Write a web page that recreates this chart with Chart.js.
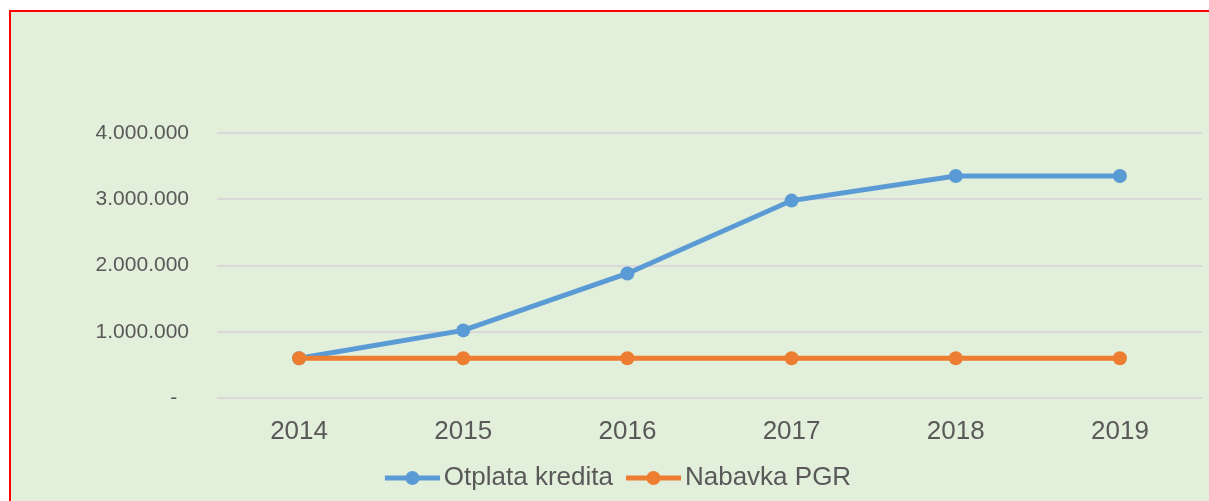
<!DOCTYPE html>
<html>
<head>
<meta charset="utf-8">
<script src="https://cdn.jsdelivr.net/npm/chart.js@4/dist/chart.umd.min.js"></script>
<style>
  html, body { margin: 0; padding: 0; background: #ffffff; width: 1209px; height: 501px; overflow: hidden; }
  #frame { position: absolute; left: 9px; top: 10px; width: 1300px; height: 600px; background: #E2EFDA; border-left: 2px solid #FF0000; border-top: 2px solid #FF0000; }
  #c { position: absolute; left: 0; top: 0; }
</style>
</head>
<body>
<div id="frame"></div>
<canvas id="c" width="1209" height="501"></canvas>
<script>
const categories = ['2014', '2015', '2016', '2017', '2018', '2019'];
const otplataKredita = [600000, 1020000, 1880000, 2980000, 3350000, 3350000];
const nabavkaPGR = [600000, 600000, 600000, 600000, 600000, 600000];
const seriesNames = ['Otplata kredita', 'Nabavka PGR'];
const yTickValues = [0, 1000000, 2000000, 3000000, 4000000];

const BLUE = '#5B9BD5';
const ORANGE = '#ED7D31';
const TEXT = '#595959';
const FONT = '"Liberation Sans", Arial, sans-serif';

function legendIcon(color) {
  const c = document.createElement('canvas');
  c.width = 67; c.height = 16;
  const g = c.getContext('2d');
  g.strokeStyle = color; g.lineWidth = 5;
  g.beginPath(); g.moveTo(12, 8); g.lineTo(67, 8); g.stroke();
  g.fillStyle = color;
  g.beginPath(); g.arc(39.5, 8, 7, 0, Math.PI * 2); g.fill();
  return c;
}

function fmt(v) {
  if (v === 0) return '-  ';
  return String(Math.round(v)).replace(/\B(?=(\d{3})+(?!\d))/g, '.');
}

new Chart(document.getElementById('c'), {
  type: 'line',
  data: {
    labels: categories,
    datasets: [
      {
        label: seriesNames[0], data: otplataKredita, order: 1,
        borderColor: BLUE, backgroundColor: BLUE, borderWidth: 5,
        pointRadius: 7, pointBorderWidth: 0, pointBackgroundColor: BLUE,
        pointStyle: 'circle', tension: 0, fill: false,
        legendIcon: legendIcon(BLUE)
      },
      {
        label: seriesNames[1], data: nabavkaPGR, order: 0,
        borderColor: ORANGE, backgroundColor: ORANGE, borderWidth: 5,
        pointRadius: 7, pointBorderWidth: 0, pointBackgroundColor: ORANGE,
        pointStyle: 'circle', tension: 0, fill: false,
        legendIcon: legendIcon(ORANGE)
      }
    ]
  },
  options: {
    responsive: false,
    devicePixelRatio: 1,
    animation: false,
    layout: { padding: { left: 30, top: 133, right: 6, bottom: 0 } },
    plugins: {
      tooltip: { enabled: false },
      legend: {
        position: 'bottom',
        labels: {
          usePointStyle: true,
          pointStyleWidth: 49,
          padding: 10,
          color: TEXT,
          font: { family: FONT, size: 26 },
          sort: (a, b) => a.datasetIndex - b.datasetIndex,
          generateLabels: (chart) => chart.data.datasets.map((ds, i) => ({
            text: ds.label,
            fillStyle: ds.borderColor,
            strokeStyle: ds.borderColor,
            lineWidth: 0,
            pointStyle: ds.legendIcon,
            fontColor: TEXT,
            hidden: !chart.isDatasetVisible(i),
            datasetIndex: i
          }))
        }
      }
    },
    scales: {
      x: {
        offset: true,
        grid: { display: false, drawTicks: false },
        border: { display: false },
        ticks: { color: TEXT, font: { family: FONT, size: 26 }, padding: 18, maxRotation: 0 },
        afterFit: (s) => { s.height = 57; }
      },
      y: {
        min: 0, max: 4000000,
        afterBuildTicks: (s) => { s.ticks = yTickValues.map(v => ({ value: v })); },
        grid: { color: '#D9D9D9', lineWidth: 2, drawTicks: false },
        border: { display: false },
        ticks: { color: TEXT, font: { family: FONT, size: 21 }, padding: 28, callback: (v) => fmt(v) },
        afterFit: (s) => { s.width = 187; }
      }
    }
  }
});
</script>
</body>
</html>
